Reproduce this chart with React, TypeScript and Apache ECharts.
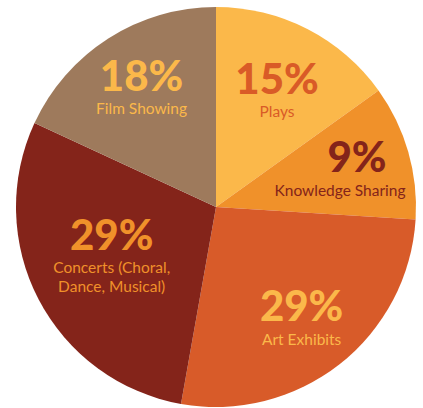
import React, { useEffect, useRef } from "react";
import * as echarts from "echarts";

const categories = ["Plays", "Knowledge Sharing", "Art Exhibits", "Concerts (Choral,\nDance, Musical)", "Film Showing"];
const sliceValues = [15.1, 10.9, 26.8, 29.1, 18.1];
const percentLabels = ["15%", "9%", "29%", "29%", "18%"];
const sliceColors = ["#FBB84A", "#F0912A", "#D85B29", "#84241A", "#9E7A5C"];
const textColors = ["#D95B27", "#84241A", "#FBB84A", "#F0912A", "#FBB84A"];
const labelOffsets = [[14, -28], [25, -13], [22, 27], [-13, -2], [-19, -36]];

export default function App() {
  const ref = useRef<HTMLDivElement>(null);
  useEffect(() => {
    if (!ref.current) return;
    const chart = echarts.init(ref.current, null, { renderer: "svg" });
    const data = categories.map((name, i) => ({
      name,
      value: sliceValues[i],
      itemStyle: { color: sliceColors[i] },
      label: {
        offset: labelOffsets[i],
        formatter: `{p|${percentLabels[i]}}\n{n|${name.split("\n").join("}\n{n|")}}`,
        rich: {
          p: {
            fontFamily: "Lato",
            fontWeight: 900,
            fontSize: 42,
            lineHeight: 48,
            color: textColors[i],
            padding: i === 1 ? [0, 0, 0, 34] : 0,
          },
          n: {
            fontFamily: "Lato",
            fontSize: 15.5,
            lineHeight: 19,
            color: textColors[i],
          },
        },
      },
    }));
    chart.setOption({
      animation: false,
      series: [
        {
          type: "pie",
          center: [216, 207],
          radius: 200,
          startAngle: 90,
          clockwise: true,
          label: { show: true, position: "inside", align: "center" },
          labelLine: { show: false },
          emphasis: { disabled: true },
          data,
        },
      ],
    });
    return () => chart.dispose();
  }, []);
  return (
    <div
      ref={ref}
      style={{ position: "fixed", left: 0, top: 0, width: 423, height: 408, background: "#fff" }}
    />
  );
}
